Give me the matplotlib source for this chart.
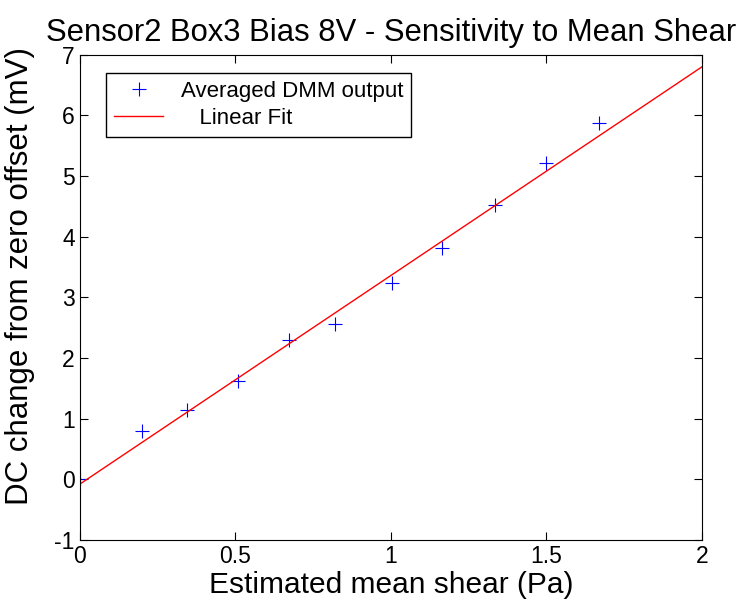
import matplotlib
matplotlib.use("Agg")
import matplotlib.pyplot as plt

plt.rcParams['font.family'] = ['Liberation Sans', 'DejaVu Sans']
plt.rcParams['axes.unicode_minus'] = False

# averaged DMM output
shear = [0.0, 0.20, 0.344, 0.508, 0.672, 0.82, 1.003, 1.164, 1.334, 1.50, 1.669]
dc_change = [0.0, 0.79, 1.14, 1.62, 2.30, 2.56, 3.24, 3.82, 4.53, 5.22, 5.88]

# linear fit endpoints
fit_x = [0.0, 2.0]
fit_y = [-0.08, 6.80]

fig = plt.figure(figsize=(7.38, 6.02), dpi=100)
ax = fig.add_axes([0.108, 0.103, 0.843, 0.806])

ax.plot(shear, dc_change, '+', color='blue', markersize=10, markeredgewidth=0.8,
        label='Averaged DMM output')
ax.plot(fit_x, fit_y, '-', color='red', linewidth=1.0, label='   Linear Fit')

ax.set_xlim(0, 2)
ax.set_ylim(-1, 7)
ax.set_xticks([0, 0.5, 1, 1.5, 2])
ax.set_xticklabels(['0', '0.5', '1', '1.5', '2'])
ax.set_yticks(range(-1, 8))
ax.tick_params(direction='in', top=True, right=True, labelsize=16.5, length=6)

ax.set_title('Sensor2 Box3 Bias 8V - Sensitivity to Mean Shear', fontsize=22.3, pad=10)
ax.set_xlabel('Estimated mean shear (Pa)', fontsize=21.5, labelpad=2)
ax.set_ylabel('DC change from zero offset (mV)', fontsize=22.5)
ax.yaxis.set_label_coords(-0.072, 0.544)

leg = ax.legend(loc='upper left', bbox_to_anchor=(0.043, 0.963), borderaxespad=0,
                fontsize=16, fancybox=False, framealpha=1, edgecolor='black',
                handlelength=2.2, borderpad=0.35, labelspacing=0.3)
leg.get_frame().set_linewidth(1.0)

fig.savefig('out.png', dpi=100)
